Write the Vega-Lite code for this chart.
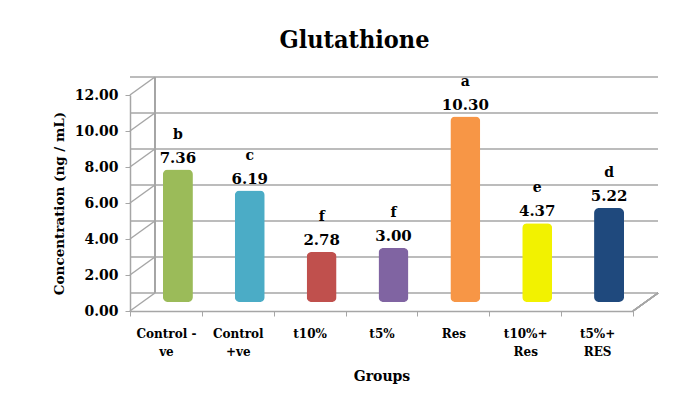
{
  "$schema": "https://vega.github.io/schema/vega-lite/v6.json",
  "width": 503,
  "height": 216,
  "autosize": {"type": "none"},
  "padding": {"left": 130, "top": 95, "right": 48, "bottom": 90},
  "background": "white",
  "title": {"text": "Glutathione", "font": "DejaVu Serif Condensed", "fontSize": 25, "fontWeight": "bold", "color": "#000000", "anchor": "middle", "dx": -27, "offset": 22},
  "config": {"view": {"stroke": null}, "font": "DejaVu Serif", "axis": {"labelOverlap": false}},
  "data": {"values": [
    {"group": "Control -ve", "value": 7.36, "letter": "b"},
    {"group": "Control +ve", "value": 6.19, "letter": "c"},
    {"group": "t10%", "value": 2.78, "letter": "f"},
    {"group": "t5%", "value": 3.00, "letter": "f"},
    {"group": "Res", "value": 10.30, "letter": "a"},
    {"group": "t10%+ Res", "value": 4.37, "letter": "e"},
    {"group": "t5%+ RES", "value": 5.22, "letter": "d"}
  ]},
  "resolve": {"scale": {"y": "independent"}, "axis": {"y": "independent"}},
  "layer": [
    {
      "data": {"values": [{"v": 0}, {"v": 2}, {"v": 4}, {"v": 6}, {"v": 8}, {"v": 10}, {"v": 12}]},
      "mark": {"type": "rule", "color": "#A6A6A6", "strokeWidth": 1.5, "xOffset": 25, "yOffset": -18},
      "encoding": {"y": {"field": "v", "type": "quantitative", "scale": {"domain": [0, 12], "nice": false}, "title": "Concentration (ng / mL)",
          "axis": {"values": [0, 2, 4, 6, 8, 10, 12], "format": ".2f", "grid": false, "labelOverlap": false, "labelFont": "DejaVu Serif", "labelFontWeight": "bold", "labelFontSize": 14, "labelColor": "#000000", "labelPadding": 7,
            "tickColor": "#A6A6A6", "tickSize": 5, "domainColor": "#A6A6A6", "domainWidth": 1.5,
            "titleFont": "DejaVu Serif", "titleFontWeight": "bold", "titleFontSize": 13.5, "titleColor": "#000000", "titlePadding": 8}}}
    },
    {
      "layer": [
        {
          "mark": {"type": "bar", "width": 30, "xOffset": 12, "cornerRadius": 5},
          "encoding": {
            "x": {"field": "group", "type": "nominal", "sort": null, "title": "Groups",
              "scale": {"domain": ["Control -ve", "Control +ve", "t10%", "t5%", "Res", "t10%+ Res", "t5%+ RES"], "paddingInner": 0, "paddingOuter": 0},
              "axis": {"labelAngle": 0, "labelAlign": "center", "labelFont": "DejaVu Serif", "labelFontWeight": "bold", "labelFontSize": 12, "labelColor": "#000000",
                "labelExpr": "datum.label == 'Control -ve' ? ['Control -', 've'] : datum.label == 'Control +ve' ? ['Control', '+ve'] : datum.label == 't10%+ Res' ? ['t10%+', 'Res'] : datum.label == 't5%+ RES' ? ['t5%+', 'RES'] : datum.label",
                "labelLineHeight": 18, "labelPadding": 12, "tickBand": "extent", "tickColor": "#A6A6A6", "tickSize": 5, "domainColor": "#A6A6A6", "domainWidth": 1.5,
                "titleFont": "DejaVu Serif", "titleFontWeight": "bold", "titleFontSize": 14, "titleColor": "#000000", "titlePadding": 12}},
            "y": {"field": "value", "type": "quantitative", "scale": {"domain": [-0.5, 11.5], "nice": false, "zero": false}, "axis": null},
            "color": {"field": "group", "type": "nominal", "sort": null, "legend": null,
              "scale": {"domain": ["Control -ve", "Control +ve", "t10%", "t5%", "Res", "t10%+ Res", "t5%+ RES"],
                "range": ["#9BBB59", "#4BACC6", "#C0504D", "#8064A2", "#F79646", "#F2F200", "#1F497D"]}}
          }
        },
        {
          "mark": {"type": "text", "xOffset": 12, "dy": -7, "baseline": "alphabetic", "font": "DejaVu Serif", "fontSize": 15, "fontWeight": "bold", "color": "#000000"},
          "encoding": {
            "x": {"field": "group", "type": "nominal", "sort": null},
            "y": {"field": "value", "type": "quantitative"},
            "text": {"field": "value", "type": "quantitative", "format": ".2f"}
          }
        },
        {
          "mark": {"type": "text", "xOffset": 12, "dy": -31, "baseline": "alphabetic", "font": "DejaVu Serif", "fontSize": 14, "fontWeight": "bold", "color": "#000000"},
          "encoding": {
            "x": {"field": "group", "type": "nominal", "sort": null},
            "y": {"field": "value", "type": "quantitative"},
            "text": {"field": "letter", "type": "nominal"}
          }
        },
        {
          "data": {"values": [{"v": 0}, {"v": 2}, {"v": 4}, {"v": 6}, {"v": 8}, {"v": 10}, {"v": 12}]},
          "mark": {"type": "rule", "color": "#A6A6A6", "strokeWidth": 1.5, "xOffset": -36, "x2Offset": -11, "yOffset": 9, "y2Offset": -9},
          "encoding": {
            "x": {"datum": "Control -ve"},
            "x2": {"datum": "Control -ve"},
            "y": {"field": "v", "type": "quantitative"},
            "y2": {"field": "v"}
          }
        },
        {
          "mark": {"type": "rule", "color": "#A6A6A6", "strokeWidth": 1.5, "xOffset": -11, "x2Offset": -11, "yOffset": -9, "y2Offset": -9},
          "encoding": {
            "x": {"datum": "Control -ve"},
            "x2": {"datum": "Control -ve"},
            "y": {"datum": 0, "type": "quantitative"},
            "y2": {"datum": 12}
          }
        },
        {
          "mark": {"type": "rule", "color": "#A6A6A6", "strokeWidth": 1.5, "xOffset": 36, "x2Offset": 61, "yOffset": 9, "y2Offset": -9},
          "encoding": {
            "x": {"datum": "t5%+ RES"},
            "x2": {"datum": "t5%+ RES"},
            "y": {"datum": 0, "type": "quantitative"},
            "y2": {"datum": 0}
          }
        }
      ]
    }
  ]
}
